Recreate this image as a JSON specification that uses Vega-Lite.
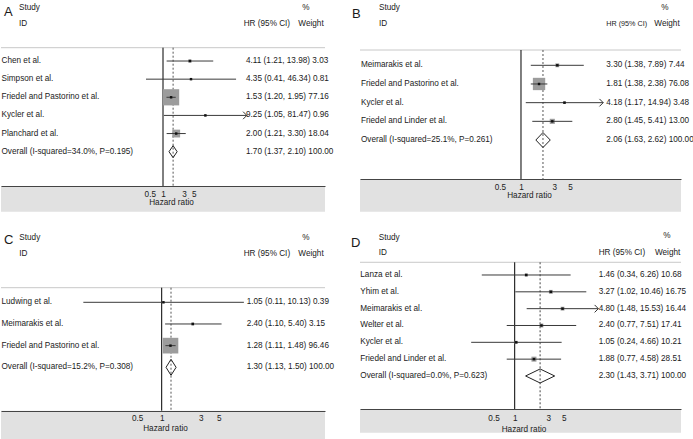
{
"$schema": "https://vega.github.io/schema/vega-lite/v6.json",
"padding": 0,
"background": "white",
"columns": 2,
"spacing": {"row": 0, "column": 35},
"bounds": "flush",
"resolve": {"scale": {"size": "independent"}},
"config": {
  "view": {"stroke": null},
  "axisY": {"disable": true},
  "axisX": {"ticks": false, "tickSize": 0, "grid": false, "domainColor": "#444", "domainWidth": 1, "labelFont": "Liberation Sans", "labelFontSize": 8.2, "labelColor": "#222", "titleFont": "Liberation Sans", "titleFontSize": 8.2, "titleFontWeight": "normal", "titleColor": "#222", "labelFlush": false, "labelOverlap": false, "zindex": 1},
  "text": {"font": "Liberation Sans", "fontSize": 8.2, "color": "#1a1a1a", "align": "left", "baseline": "middle"}
},
"concat": [
{
 "width": 324, "height": 220,
 "data": {"values": [
  {"row":1,"kind":"study","study":"Chen et al.","hr":4.11,"lo":1.21,"hi":13.98,"weight":3.03,"ci":"4.11 (1.21, 13.98) 3.03"},
  {"row":2,"kind":"study","study":"Simpson et al.","hr":4.35,"lo":0.41,"hi":46.34,"weight":0.81,"ci":"4.35 (0.41, 46.34) 0.81"},
  {"row":3,"kind":"study","study":"Friedel and Pastorino et al.","hr":1.53,"lo":1.20,"hi":1.95,"weight":77.16,"ci":"1.53 (1.20, 1.95) 77.16"},
  {"row":4,"kind":"study","study":"Kycler et al.","hr":9.25,"lo":1.05,"hi":81.47,"weight":0.96,"ci":"9.25 (1.05, 81.47) 0.96"},
  {"row":5,"kind":"study","study":"Planchard et al.","hr":2.00,"lo":1.21,"hi":3.30,"weight":18.04,"ci":"2.00 (1.21, 3.30) 18.04"},
  {"row":6,"kind":"overall","study":"Overall (I-squared=34.0%, P=0.195)","hr":1.70,"lo":1.37,"hi":2.10,"weight":100,"ci":"1.70 (1.37, 2.10) 100.00"}
 ]},
 "layer": [
  {"data":{"values":[{}]},"mark":{"type":"rect","color":"#e1e1e1"},
   "encoding":{"x":{"datum":0.00020266,"type":"quantitative","scale":{"type":"log","domain":[0.00020266,4934.3],"nice":false},"axis":{"title":"Hazard ratio","values":[0.5,1,3,5],"format":"~g","offset":-34,"labelPadding":4,"titlePadding":1,"titleX":170,"zindex":2}},
     "x2":{"datum":4934.3},
     "y":{"datum":7.893,"type":"quantitative","scale":{"domain":[-2.366,9.768],"reverse":true,"nice":false,"zero":false},"axis":null},
     "y2":{"datum":9.31}}},
  {"data":{"values":[{}]},"mark":{"type":"rule","color":"#c8c8c8"},"encoding":{"y":{"datum":0.265,"type":"quantitative"}}},
  {"data":{"values":[{}]},"mark":{"type":"rule","color":"#000"},"encoding":{"x":{"datum":1,"type":"quantitative"},"y":{"datum":0.265,"type":"quantitative"},"y2":{"datum":7.893}}},
  {"transform":[{"filter":"datum.kind=='overall'"}],"mark":{"type":"rule","color":"#555","strokeDash":[2,2]},"encoding":{"x":{"field":"hr","type":"quantitative"},"y":{"datum":0.265,"type":"quantitative"},"y2":{"datum":7.893}}},
  {"transform":[{"filter":"datum.kind=='study'"}],"mark":{"type":"point","shape":"square","filled":true,"color":"#9c9c9c","opacity":1},"encoding":{"x":{"field":"hr","type":"quantitative"},"y":{"field":"row","type":"quantitative"},"size":{"field":"weight","type":"quantitative","scale":{"domain":[0,100],"range":[0,340]},"legend":null}}},
  {"transform":[{"filter":"datum.kind=='study'"}],"mark":{"type":"rule","color":"#3a3a3a"},"encoding":{"x":{"field":"lo","type":"quantitative"},"x2":{"field":"hi"},"y":{"field":"row","type":"quantitative"}}},
  {"transform":[{"filter":"datum.kind=='study'"}],"mark":{"type":"point","shape":"square","filled":true,"color":"#111","size":6,"opacity":1},"encoding":{"x":{"field":"hr","type":"quantitative"},"y":{"field":"row","type":"quantitative"}}},
  {"transform":[{"filter":"datum.kind=='study' && datum.hi > 50"}],"mark":{"type":"point","shape":"M-1,-1L0,0L-1,1","filled":false,"color":"#333","size":56,"strokeWidth":1,"opacity":1},"encoding":{"x":{"field":"hi","type":"quantitative"},"y":{"field":"row","type":"quantitative"}}},
  {"transform":[{"filter":"datum.kind=='overall'"}],"mark":{"type":"rule","color":"#222","y2Offset":-6},"encoding":{"x":{"field":"lo","type":"quantitative"},"x2":{"field":"hr"},"y":{"field":"row","type":"quantitative"},"y2":{"field":"row"}}},
  {"transform":[{"filter":"datum.kind=='overall'"}],"mark":{"type":"rule","color":"#222","y2Offset":6},"encoding":{"x":{"field":"lo","type":"quantitative"},"x2":{"field":"hr"},"y":{"field":"row","type":"quantitative"},"y2":{"field":"row"}}},
  {"transform":[{"filter":"datum.kind=='overall'"}],"mark":{"type":"rule","color":"#222","yOffset":-6},"encoding":{"x":{"field":"hr","type":"quantitative"},"x2":{"field":"hi"},"y":{"field":"row","type":"quantitative"},"y2":{"field":"row"}}},
  {"transform":[{"filter":"datum.kind=='overall'"}],"mark":{"type":"rule","color":"#222","yOffset":6},"encoding":{"x":{"field":"hr","type":"quantitative"},"x2":{"field":"hi"},"y":{"field":"row","type":"quantitative"},"y2":{"field":"row"}}},
  {"mark":{"type":"text"},"encoding":{"x":{"datum":0.00020804,"type":"quantitative"},"y":{"field":"row","type":"quantitative"},"text":{"field":"study"}}},
  {"mark":{"type":"text"},"encoding":{"x":{"datum":78.03,"type":"quantitative"},"y":{"field":"row","type":"quantitative"},"text":{"field":"ci"}}},
  {"data":{"values":[{"t":"A"}]},"mark":{"type":"text","fontSize":13},"encoding":{"x":{"datum":0.00023724,"type":"quantitative"},"y":{"datum":-1.677,"type":"quantitative"},"text":{"field":"t"}}},
  {"data":{"values":[{"t":"Study"}]},"mark":{"type":"text"},"encoding":{"x":{"datum":0.00052136,"type":"quantitative"},"y":{"datum":-1.908,"type":"quantitative"},"text":{"field":"t"}}},
  {"data":{"values":[{"t":"ID"}]},"mark":{"type":"text"},"encoding":{"x":{"datum":0.00052136,"type":"quantitative"},"y":{"datum":-1.042,"type":"quantitative"},"text":{"field":"t"}}},
  {"data":{"values":[{"t":"%"}]},"mark":{"type":"text","align":"center"},"encoding":{"x":{"datum":1820.0,"type":"quantitative"},"y":{"datum":-1.908,"type":"quantitative"},"text":{"field":"t"}}},
  {"data":{"values":[{"t":"HR (95% CI)"}]},"mark":{"type":"text"},"encoding":{"x":{"datum":69.14,"type":"quantitative"},"y":{"datum":-1.042,"type":"quantitative"},"text":{"field":"t"}}},
  {"data":{"values":[{"t":"Weight"}]},"mark":{"type":"text","align":"right"},"encoding":{"x":{"datum":4608.6,"type":"quantitative"},"y":{"datum":-1.042,"type":"quantitative"},"text":{"field":"t"}}}
 ]
},
{
 "width": 321, "height": 220,
 "data": {"values": [
  {"row":1,"kind":"study","study":"Meimarakis et al.","hr":3.30,"lo":1.38,"hi":7.89,"weight":7.44,"ci":"3.30 (1.38, 7.89) 7.44"},
  {"row":2,"kind":"study","study":"Friedel and Pastorino et al.","hr":1.81,"lo":1.38,"hi":2.38,"weight":76.08,"ci":"1.81 (1.38, 2.38) 76.08"},
  {"row":3,"kind":"study","study":"Kycler et al.","hr":4.18,"lo":1.17,"hi":14.94,"weight":3.48,"ci":"4.18 (1.17, 14.94) 3.48"},
  {"row":4,"kind":"study","study":"Friedel and Linder et al.","hr":2.80,"lo":1.45,"hi":5.41,"weight":13.00,"ci":"2.80 (1.45, 5.41) 13.00"},
  {"row":5,"kind":"overall","study":"Overall (I-squared=25.1%, P=0.261)","hr":2.06,"lo":1.63,"hi":2.62,"weight":100,"ci":"2.06 (1.63, 2.62) 100.00"}
 ]},
 "layer": [
  {"data":{"values":[{}]},"mark":{"type":"rect","color":"#e1e1e1"},
   "encoding":{"x":{"datum":0.0050112,"type":"quantitative","scale":{"type":"log","domain":[0.0050112,193.10],"nice":false},"axis":{"title":"Hazard ratio","values":[0.5,1,3,5],"format":"~g","offset":-41,"labelPadding":4,"titlePadding":1,"titleX":169,"zindex":2}},
     "x2":{"datum":193.10},
     "y":{"datum":7.087,"type":"quantitative","scale":{"domain":[-2.496,9.282],"reverse":true,"nice":false,"zero":false},"axis":null},
     "y2":{"datum":8.837}}},
  {"data":{"values":[{}]},"mark":{"type":"rule","color":"#c8c8c8"},"encoding":{"y":{"datum":0.181,"type":"quantitative"}}},
  {"data":{"values":[{}]},"mark":{"type":"rule","color":"#000"},"encoding":{"x":{"datum":1,"type":"quantitative"},"y":{"datum":0.181,"type":"quantitative"},"y2":{"datum":7.087}}},
  {"transform":[{"filter":"datum.kind=='overall'"}],"mark":{"type":"rule","color":"#555","strokeDash":[2,2]},"encoding":{"x":{"field":"hr","type":"quantitative"},"y":{"datum":0.181,"type":"quantitative"},"y2":{"datum":7.087}}},
  {"transform":[{"filter":"datum.kind=='study'"}],"mark":{"type":"point","shape":"square","filled":true,"color":"#9c9c9c","opacity":1},"encoding":{"x":{"field":"hr","type":"quantitative"},"y":{"field":"row","type":"quantitative"},"size":{"field":"weight","type":"quantitative","scale":{"domain":[0,100],"range":[0,200]},"legend":null}}},
  {"transform":[{"filter":"datum.kind=='study'"}],"mark":{"type":"rule","color":"#3a3a3a"},"encoding":{"x":{"field":"lo","type":"quantitative"},"x2":{"field":"hi"},"y":{"field":"row","type":"quantitative"}}},
  {"transform":[{"filter":"datum.kind=='study'"}],"mark":{"type":"point","shape":"square","filled":true,"color":"#111","size":6,"opacity":1},"encoding":{"x":{"field":"hr","type":"quantitative"},"y":{"field":"row","type":"quantitative"}}},
  {"transform":[{"filter":"datum.kind=='study' && datum.hi > 10"}],"mark":{"type":"point","shape":"M-1,-1L0,0L-1,1","filled":false,"color":"#333","size":56,"strokeWidth":1,"opacity":1},"encoding":{"x":{"field":"hi","type":"quantitative"},"y":{"field":"row","type":"quantitative"}}},
  {"transform":[{"filter":"datum.kind=='overall'"}],"mark":{"type":"rule","color":"#222","y2Offset":-7.5},"encoding":{"x":{"field":"lo","type":"quantitative"},"x2":{"field":"hr"},"y":{"field":"row","type":"quantitative"},"y2":{"field":"row"}}},
  {"transform":[{"filter":"datum.kind=='overall'"}],"mark":{"type":"rule","color":"#222","y2Offset":7.5},"encoding":{"x":{"field":"lo","type":"quantitative"},"x2":{"field":"hr"},"y":{"field":"row","type":"quantitative"},"y2":{"field":"row"}}},
  {"transform":[{"filter":"datum.kind=='overall'"}],"mark":{"type":"rule","color":"#222","yOffset":-7.5},"encoding":{"x":{"field":"hr","type":"quantitative"},"x2":{"field":"hi"},"y":{"field":"row","type":"quantitative"},"y2":{"field":"row"}}},
  {"transform":[{"filter":"datum.kind=='overall'"}],"mark":{"type":"rule","color":"#222","yOffset":7.5},"encoding":{"x":{"field":"hr","type":"quantitative"},"x2":{"field":"hi"},"y":{"field":"row","type":"quantitative"},"y2":{"field":"row"}}},
  {"mark":{"type":"text"},"encoding":{"x":{"datum":0.0051787,"type":"quantitative"},"y":{"field":"row","type":"quantitative"},"text":{"field":"study"}}},
  {"mark":{"type":"text"},"encoding":{"x":{"datum":16.542,"type":"quantitative"},"y":{"field":"row","type":"quantitative"},"text":{"field":"ci"}}},
  {"data":{"values":[{"t":"B"}]},"mark":{"type":"text","fontSize":13},"encoding":{"x":{"datum":0.0038518,"type":"quantitative"},"y":{"datum":-1.746,"type":"quantitative"},"text":{"field":"t"}}},
  {"data":{"values":[{"t":"Study"}]},"mark":{"type":"text"},"encoding":{"x":{"datum":0.009362,"type":"quantitative"},"y":{"datum":-2.067,"type":"quantitative"},"text":{"field":"t"}}},
  {"data":{"values":[{"t":"ID"}]},"mark":{"type":"text"},"encoding":{"x":{"datum":0.009362,"type":"quantitative"},"y":{"datum":-1.211,"type":"quantitative"},"text":{"field":"t"}}},
  {"data":{"values":[{"t":"%"}]},"mark":{"type":"text","align":"center"},"encoding":{"x":{"datum":114.07,"type":"quantitative"},"y":{"datum":-2.067,"type":"quantitative"},"text":{"field":"t"}}},
  {"data":{"values":[{"t":"HR (95% CI)"}]},"mark":{"type":"text","fontSize":7.2},"encoding":{"x":{"datum":16.542,"type":"quantitative"},"y":{"datum":-1.211,"type":"quantitative"},"text":{"field":"t"}}},
  {"data":{"values":[{"t":"Weight"}]},"mark":{"type":"text","align":"right"},"encoding":{"x":{"datum":185.01,"type":"quantitative"},"y":{"datum":-1.211,"type":"quantitative"},"text":{"field":"t"}}}
 ]
},
{
 "width": 324, "height": 219,
 "data": {"values": [
  {"row":1,"kind":"study","study":"Ludwing et al.","hr":1.05,"lo":0.11,"hi":10.13,"weight":0.39,"ci":"1.05 (0.11, 10.13) 0.39"},
  {"row":2,"kind":"study","study":"Meimarakis et al.","hr":2.40,"lo":1.10,"hi":5.40,"weight":3.15,"ci":"2.40 (1.10, 5.40) 3.15"},
  {"row":3,"kind":"study","study":"Friedel and Pastorino et al.","hr":1.28,"lo":1.11,"hi":1.48,"weight":96.46,"ci":"1.28 (1.11, 1.48) 96.46"},
  {"row":4,"kind":"overall","study":"Overall (I-squared=15.2%, P=0.308)","hr":1.30,"lo":1.13,"hi":1.50,"weight":100,"ci":"1.30 (1.13, 1.50) 100.00"}
 ]},
 "layer": [
  {"data":{"values":[{}]},"mark":{"type":"rect","color":"#e1e1e1"},
   "encoding":{"x":{"datum":0.010815,"type":"quantitative","scale":{"type":"log","domain":[0.010815,99.484],"nice":false},"axis":{"title":"Hazard ratio","values":[0.5,1,3,5],"format":"~g","offset":-28,"labelPadding":3.5,"titlePadding":3,"titleX":164,"zindex":2}},
     "x2":{"datum":99.484},
     "y":{"datum":6.002,"type":"quantitative","scale":{"domain":[-2.798,7.308],"reverse":true,"nice":false,"zero":false},"axis":null},
     "y2":{"datum":7.308}}},
  {"data":{"values":[{}]},"mark":{"type":"rule","color":"#c8c8c8"},"encoding":{"y":{"datum":0.326,"type":"quantitative"}}},
  {"data":{"values":[{}]},"mark":{"type":"rule","color":"#000"},"encoding":{"x":{"datum":1,"type":"quantitative"},"y":{"datum":0.326,"type":"quantitative"},"y2":{"datum":6.002}}},
  {"transform":[{"filter":"datum.kind=='overall'"}],"mark":{"type":"rule","color":"#555","strokeDash":[2,2]},"encoding":{"x":{"field":"hr","type":"quantitative"},"y":{"datum":0.326,"type":"quantitative"},"y2":{"datum":6.002}}},
  {"transform":[{"filter":"datum.kind=='study'"}],"mark":{"type":"point","shape":"square","filled":true,"color":"#9c9c9c","opacity":1},"encoding":{"x":{"field":"hr","type":"quantitative"},"y":{"field":"row","type":"quantitative"},"size":{"field":"weight","type":"quantitative","scale":{"domain":[0,100],"range":[0,255]},"legend":null}}},
  {"transform":[{"filter":"datum.kind=='study'"}],"mark":{"type":"rule","color":"#3a3a3a"},"encoding":{"x":{"field":"lo","type":"quantitative"},"x2":{"field":"hi"},"y":{"field":"row","type":"quantitative"}}},
  {"transform":[{"filter":"datum.kind=='study'"}],"mark":{"type":"point","shape":"square","filled":true,"color":"#111","size":6,"opacity":1},"encoding":{"x":{"field":"hr","type":"quantitative"},"y":{"field":"row","type":"quantitative"}}},
  {"transform":[{"filter":"datum.kind=='overall'"}],"mark":{"type":"rule","color":"#222","y2Offset":-8},"encoding":{"x":{"field":"lo","type":"quantitative"},"x2":{"field":"hr"},"y":{"field":"row","type":"quantitative"},"y2":{"field":"row"}}},
  {"transform":[{"filter":"datum.kind=='overall'"}],"mark":{"type":"rule","color":"#222","y2Offset":8},"encoding":{"x":{"field":"lo","type":"quantitative"},"x2":{"field":"hr"},"y":{"field":"row","type":"quantitative"},"y2":{"field":"row"}}},
  {"transform":[{"filter":"datum.kind=='overall'"}],"mark":{"type":"rule","color":"#222","yOffset":-8},"encoding":{"x":{"field":"hr","type":"quantitative"},"x2":{"field":"hi"},"y":{"field":"row","type":"quantitative"},"y2":{"field":"row"}}},
  {"transform":[{"filter":"datum.kind=='overall'"}],"mark":{"type":"rule","color":"#222","yOffset":8},"encoding":{"x":{"field":"hr","type":"quantitative"},"x2":{"field":"hi"},"y":{"field":"row","type":"quantitative"},"y2":{"field":"row"}}},
  {"mark":{"type":"text"},"encoding":{"x":{"datum":0.010968,"type":"quantitative"},"y":{"field":"row","type":"quantitative"},"text":{"field":"study"}}},
  {"mark":{"type":"text"},"encoding":{"x":{"datum":10.962,"type":"quantitative"},"y":{"field":"row","type":"quantitative"},"text":{"field":"ci"}}},
  {"data":{"values":[{"t":"C"}]},"mark":{"type":"text","fontSize":13},"encoding":{"x":{"datum":0.011769,"type":"quantitative"},"y":{"datum":-1.898,"type":"quantitative"},"text":{"field":"t"}}},
  {"data":{"values":[{"t":"Study"}]},"mark":{"type":"text"},"encoding":{"x":{"datum":0.018110,"type":"quantitative"},"y":{"datum":-1.953,"type":"quantitative"},"text":{"field":"t"}}},
  {"data":{"values":[{"t":"ID"}]},"mark":{"type":"text"},"encoding":{"x":{"datum":0.018110,"type":"quantitative"},"y":{"datum":-1.215,"type":"quantitative"},"text":{"field":"t"}}},
  {"data":{"values":[{"t":"%"}]},"mark":{"type":"text","align":"center"},"encoding":{"x":{"datum":58.254,"type":"quantitative"},"y":{"datum":-1.953,"type":"quantitative"},"text":{"field":"t"}}},
  {"data":{"values":[{"t":"HR (95% CI)"}]},"mark":{"type":"text"},"encoding":{"x":{"datum":10.073,"type":"quantitative"},"y":{"datum":-1.215,"type":"quantitative"},"text":{"field":"t"}}},
  {"data":{"values":[{"t":"Weight"}]},"mark":{"type":"text","align":"right"},"encoding":{"x":{"datum":95.91,"type":"quantitative"},"y":{"datum":-1.215,"type":"quantitative"},"text":{"field":"t"}}}
 ]
},
{
 "width": 321, "height": 219,
 "data": {"values": [
  {"row":1,"kind":"study","study":"Lanza et al.","hr":1.46,"lo":0.34,"hi":6.26,"weight":10.68,"ci":"1.46 (0.34, 6.26) 10.68"},
  {"row":2,"kind":"study","study":"Yhim et al.","hr":3.27,"lo":1.02,"hi":10.46,"weight":16.75,"ci":"3.27 (1.02, 10.46) 16.75"},
  {"row":3,"kind":"study","study":"Meimarakis et al.","hr":4.80,"lo":1.48,"hi":15.53,"weight":16.44,"ci":"4.80 (1.48, 15.53) 16.44"},
  {"row":4,"kind":"study","study":"Welter et al.","hr":2.40,"lo":0.77,"hi":7.51,"weight":17.41,"ci":"2.40 (0.77, 7.51) 17.41"},
  {"row":5,"kind":"study","study":"Kycler et al.","hr":1.05,"lo":0.24,"hi":4.66,"weight":10.21,"ci":"1.05 (0.24, 4.66) 10.21"},
  {"row":6,"kind":"study","study":"Friedel and Linder et al.","hr":1.88,"lo":0.77,"hi":4.58,"weight":28.51,"ci":"1.88 (0.77, 4.58) 28.51"},
  {"row":7,"kind":"overall","study":"Overall (I-squared=0.0%, P=0.623)","hr":2.30,"lo":1.43,"hi":3.71,"weight":100,"ci":"2.30 (1.43, 3.71) 100.00"}
 ]},
 "layer": [
  {"data":{"values":[{}]},"mark":{"type":"rect","color":"#e1e1e1"},
   "encoding":{"x":{"datum":0.0062692,"type":"quantitative","scale":{"type":"log","domain":[0.0062692,233.34],"nice":false},"axis":{"title":"Hazard ratio","values":[0.5,1,3,5],"format":"~g","offset":-30,"labelPadding":5.5,"titlePadding":3.5,"titleX":163.5,"zindex":2}},
     "x2":{"datum":233.34},
     "y":{"datum":8.98,"type":"quantitative","scale":{"domain":[-2.268,10.745],"reverse":true,"nice":false,"zero":false},"axis":null},
     "y2":{"datum":10.37}}},
  {"data":{"values":[{}]},"mark":{"type":"rule","color":"#c8c8c8"},"encoding":{"y":{"datum":0.245,"type":"quantitative"}}},
  {"data":{"values":[{}]},"mark":{"type":"rule","color":"#000"},"encoding":{"x":{"datum":1,"type":"quantitative"},"y":{"datum":0.245,"type":"quantitative"},"y2":{"datum":8.98}}},
  {"transform":[{"filter":"datum.kind=='overall'"}],"mark":{"type":"rule","color":"#444","strokeDash":[2,2]},"encoding":{"x":{"field":"hr","type":"quantitative"},"y":{"datum":0.245,"type":"quantitative"},"y2":{"datum":8.98}}},
  {"transform":[{"filter":"datum.kind=='study'"}],"mark":{"type":"point","shape":"square","filled":true,"color":"#9c9c9c","opacity":1},"encoding":{"x":{"field":"hr","type":"quantitative"},"y":{"field":"row","type":"quantitative"},"size":{"field":"weight","type":"quantitative","scale":{"domain":[0,100],"range":[0,88]},"legend":null}}},
  {"transform":[{"filter":"datum.kind=='study'"}],"mark":{"type":"rule","color":"#3a3a3a"},"encoding":{"x":{"field":"lo","type":"quantitative"},"x2":{"field":"hi"},"y":{"field":"row","type":"quantitative"}}},
  {"transform":[{"filter":"datum.kind=='study'"}],"mark":{"type":"point","shape":"square","filled":true,"color":"#111","size":6,"opacity":1},"encoding":{"x":{"field":"hr","type":"quantitative"},"y":{"field":"row","type":"quantitative"}}},
  {"transform":[{"filter":"datum.kind=='study' && datum.hi > 12"}],"mark":{"type":"point","shape":"M-1,-1L0,0L-1,1","filled":false,"color":"#333","size":56,"strokeWidth":1,"opacity":1},"encoding":{"x":{"field":"hi","type":"quantitative"},"y":{"field":"row","type":"quantitative"}}},
  {"transform":[{"filter":"datum.kind=='overall'"}],"mark":{"type":"rule","color":"#222","y2Offset":-7},"encoding":{"x":{"field":"lo","type":"quantitative"},"x2":{"field":"hr"},"y":{"field":"row","type":"quantitative"},"y2":{"field":"row"}}},
  {"transform":[{"filter":"datum.kind=='overall'"}],"mark":{"type":"rule","color":"#222","y2Offset":7},"encoding":{"x":{"field":"lo","type":"quantitative"},"x2":{"field":"hr"},"y":{"field":"row","type":"quantitative"},"y2":{"field":"row"}}},
  {"transform":[{"filter":"datum.kind=='overall'"}],"mark":{"type":"rule","color":"#222","yOffset":-7},"encoding":{"x":{"field":"hr","type":"quantitative"},"x2":{"field":"hi"},"y":{"field":"row","type":"quantitative"},"y2":{"field":"row"}}},
  {"transform":[{"filter":"datum.kind=='overall'"}],"mark":{"type":"rule","color":"#222","yOffset":7},"encoding":{"x":{"field":"hr","type":"quantitative"},"x2":{"field":"hi"},"y":{"field":"row","type":"quantitative"},"y2":{"field":"row"}}},
  {"mark":{"type":"text"},"encoding":{"x":{"datum":0.0063309,"type":"quantitative"},"y":{"field":"row","type":"quantitative"},"text":{"field":"study"}}},
  {"mark":{"type":"text"},"encoding":{"x":{"datum":15.707,"type":"quantitative"},"y":{"field":"row","type":"quantitative"},"text":{"field":"ci"}}},
  {"data":{"values":[{"t":"D"}]},"mark":{"type":"text","fontSize":13},"encoding":{"x":{"datum":0.0046674,"type":"quantitative"},"y":{"datum":-0.931,"type":"quantitative"},"text":{"field":"t"}}},
  {"data":{"values":[{"t":"Study"}]},"mark":{"type":"text"},"encoding":{"x":{"datum":0.011574,"type":"quantitative"},"y":{"datum":-1.181,"type":"quantitative"},"text":{"field":"t"}}},
  {"data":{"values":[{"t":"ID"}]},"mark":{"type":"text"},"encoding":{"x":{"datum":0.011574,"type":"quantitative"},"y":{"datum":-0.289,"type":"quantitative"},"text":{"field":"t"}}},
  {"data":{"values":[{"t":"%"}]},"mark":{"type":"text","align":"center"},"encoding":{"x":{"datum":147.44,"type":"quantitative"},"y":{"datum":-1.317,"type":"quantitative"},"text":{"field":"t"}}},
  {"data":{"values":[{"t":"HR (95% CI)"}]},"mark":{"type":"text"},"encoding":{"x":{"datum":15.707,"type":"quantitative"},"y":{"datum":-0.289,"type":"quantitative"},"text":{"field":"t"}}},
  {"data":{"values":[{"t":"Weight"}]},"mark":{"type":"text","align":"right"},"encoding":{"x":{"datum":228.04,"type":"quantitative"},"y":{"datum":-0.289,"type":"quantitative"},"text":{"field":"t"}}}
 ]
}
]
}
